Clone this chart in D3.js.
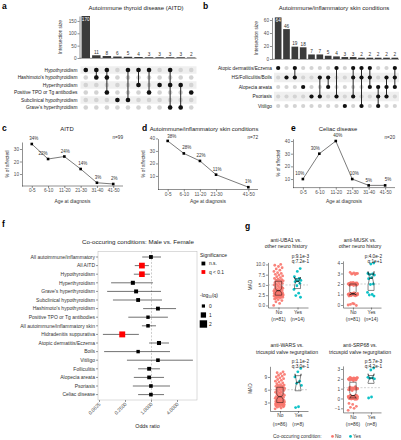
<!DOCTYPE html>
<html><head><meta charset="utf-8">
<script src="https://cdn.jsdelivr.net/npm/d3@7"></script>
<style>body{margin:0;background:#fff}</style>
</head><body><svg id="c" width="401" height="440"></svg>
<script>
// ---------------- DATA ----------------
const aitdSets = ["Hypothyroidism","Hashimoto's hypothyroidism","Hyperthyroidism","Positive TPO or Tg antibodies","Subclinical hypothyroidism","Grave's hyperthyroidism"];
const aitdCounts = [170,11,8,6,5,4,3,3,3,3,2];
const aitdMembers = [[0],[0,1],[0,1,3],[4],[0,4],[0,2],[0,3],[2],[0,2,5],[2,5],[3]];

const skinSets = ["Atopic dermatitis/Eczema","HS/Folliculitis/Boils","Alopecia areata","Psoriasis","Vitiligo"];
const skinCounts = [64,46,19,18,7,7,5,4,3,3,2,2,2,2,2];
const skinMembers = [[0],[1],[0,1],[2],[3],[1,3],[1,2],[0,3],[4],[0,1,3],[0,1,4],[0,1,2],[2,3,4],[1,2,3],[0,1,2]];

const ageGroups = ["0-5","6-10","11-20","21-30","31-40","41-50"];
const aitdAgeGroups = ["0-5","6-10","11-20","21-30","31-40","41-50"];
const aitdAgePct = [34,22,24,14,3,2];
const skinAgeGroups = ["0-5","6-10","11-20","21-30","41-50"];
const skinAgePct = [38,28,22,11,1];
const celiacAgeGroups = ["0-5","6-10","11-20","21-30","31-40","41-50"];
const celiacAgePct = [10,30,40,10,5,5];

const orLabels = ["All autoimmune/inflammatory","All AITD","Hypothyroidism","Hyperthyroidism","Grave's hyperthyroidism","Subclinical hypothyroidism","Hashimoto's hypothyroidism","Positive TPO or Tg antibodies","All autoimmune/inflammatory skin","Hidradenitis suppurativa","Atopic dermatitis/Eczema","Boils","Vitiligo","Folliculitis","Alopecia areata","Psoriasis","Celiac disease"];
const orValue = [0.97,0.60,0.60,0.37,0.44,0.49,1.41,0.83,0.83,0.21,1.49,0.49,1.41,0.88,0.88,0.97,0.97];
const orLow   = [0.61,0.41,0.39,0.116,0.094,0.128,0.64,0.29,0.60,0.075,0.88,0.08,0.27,0.49,0.39,0.37,0.49];
const orHigh  = [1.66,0.87,0.92,1.08,1.66,1.75,3.7,2.4,1.27,0.51,2.54,2.68,9.1,1.57,1.95,2.68,1.95];
const orNegLogQ = [0.3,1.2,1.15,0.4,0.35,0.3,0.3,0.1,0.15,1.3,0.4,0.1,0.2,0.3,0.25,0.2,0.2];
const orSignif = [false,true,true,false,false,false,false,false,false,true,false,false,false,false,false,false,false];
const orTicks = [0.0625,0.25,1,4];
const orTickLabels = ["0.0625","0.2500","1.0000","4.0000"];

const uba1No = [0.0,0.5,0.9,1.2,1.4,1.6,1.8,1.9,2.0,2.1,2.2,2.2,2.3,2.3,2.4,2.4,2.5,2.5,2.6,2.6,2.7,2.7,2.8,2.8,2.9,2.9,3.0,3.0,3.1,3.1,3.2,3.3,3.3,3.4,3.5,3.5,3.6,3.7,3.8,3.9,4.0,4.1,4.2,4.4,4.5,4.6,4.8,5.0,5.1,5.2,5.4,5.5,5.6,5.8,5.9,6.0,6.1,6.2,6.3,6.4,6.6,6.8,7.0,7.2,7.4,7.6,7.8,8.0,8.3,8.6,8.9,9.2,9.5,9.8,10.0,3.2,2.4,2.0,1.7,4.3,3.6];
const uba1Yes = [9.0,8.3,7.0,6.6,6.3,6.1,6.0,5.8,5.4,4.8,3.9,3.0,2.4,2.0];
const muskNo = [0.0,0.1,0.05,-0.05,0.15,
 0.85,0.9,0.9,0.95,0.95,0.95,1.0,1.0,1.0,1.0,1.0,1.0,1.05,1.05,1.05,1.1,1.1,1.15,0.9,0.95,1.0,1.0,1.05,0.92,0.98,1.02,1.08,0.88,0.97,1.03,1.12,0.93,1.0,1.06,0.96,1.01,1.04,0.99,
 1.85,1.9,1.95,2.0,2.0,2.0,2.05,2.1,2.15,1.9,1.95,2.0,2.0,2.05,2.1,1.88,1.97,2.02,2.08,2.12,1.92,1.98,2.03,2.07,1.94,2.0,2.04,1.96,2.01,2.06,1.99,
 2.9,2.95,3.0,3.05,3.1,3.0,2.97];
const muskYes = [4.0,3.9,3.0,2.95,2.9,2.85,2.6,2.5,2.0,1.95,1.2,1.0,0.95,0.85];
const warsNo = [1.5,1.7,1.9,2.0,2.1,2.2,2.3,2.4,2.5,2.5,2.6,2.6,2.7,2.7,2.8,2.8,2.9,2.9,3.0,3.0,3.0,3.1,3.1,3.2,3.2,3.3,3.3,3.4,3.5,3.5,3.6,3.7,3.8,3.9,4.0,4.0,4.1,4.2,4.3,4.4,4.5,4.6,4.7,4.8,5.0,5.1,5.2,5.4,5.5,5.6,5.8,5.9,6.0,6.1,6.2,6.3,6.4,6.5,6.6,6.7,6.8,6.9,7.0,7.1,7.2,7.4,7.6,7.8,8.0,8.2,8.4,8.6,8.8,9.0,9.2,9.4,9.6,9.8,10.0,10.2,3.4,2.4,3.8,4.6,2.2,5.3];
const warsYes = [11.0,10.2,9.0,8.0,7.5,7.0,2.0,1.8];
const srpNo = [-1.2,-1.0,-0.9,-0.8,-0.6,-0.5,
 -0.1,-0.05,0,0,0,0.05,0.1,0.15,0.2,0.25,-0.08,0.02,0.0,0.08,0.12,0.18,0.22,0.3,-0.02,0.04,0.06,0.1,0.14,0.0,0.03,0.07,0.11,0.16,0.2,0.24,0.28,0.32,0.05,0.09,0.13,0.01,0.17,0.21,0.26,0.35,
 0.8,0.9,0.95,1.0,1.0,1.05,1.1,1.2,0.85,0.98,1.02,1.15,0.93,1.07,0.88,1.12,0.97,1.03,
 1.8,1.85,1.9,1.9,1.95,1.95,2.0,2.0,2.0,2.0,2.05,2.05,2.1,2.1,2.15,1.88,1.93,1.98,2.02,2.07,2.12,1.97];
const srpYes = [3.1,2.9,2.15,2.1,2.05,2.0,0.15,0.05];
const gPanels = [
 {t1:"anti-UBA1 vs.", t2:"other neuro history", p:"p:9.1e-3", q:"q:7.2e-1", no:uba1No, yes:uba1Yes, nNo:"(n=81)", nYes:"(n=14)", ref:5, ticks:[0,2.5,5,7.5,10], fmt:".1f"},
 {t1:"anti-MUSK vs.", t2:"other neuro history", p:"p:4.0e-2", q:"q:1e+1", no:muskNo, yes:muskYes, nNo:"(n=81)", nYes:"(n=14)", ref:2, ticks:[0,1,2,3,4], fmt:"d"},
 {t1:"anti-WARS vs.", t2:"tricuspid valve regurgitation", p:"p:1.1e-2", q:"q:3.0e-1", no:warsNo, yes:warsYes, nNo:"(n=86)", nYes:"(n=8)", ref:6, ticks:[3,6,9], fmt:"d"},
 {t1:"anti-SRP68 vs.", t2:"tricuspid valve regurgitation", p:"p:5.7e-3", q:"q:4.2e-1", no:srpNo, yes:srpYes, nNo:"(n=86)", nYes:"(n=8)", ref:1.1, ticks:[-1,0,1,2,3], fmt:"d"}
];

// ---------------- SETUP ----------------
const FONT = '"Liberation Sans", Arial, Helvetica, sans-serif';
const svg = d3.select("#c");
svg.append("rect").attr("width",401).attr("height",440).attr("fill","#fff");
function T(x,y,s,size,o={}) {
  const t = svg.append("text").attr("x",x).attr("y",y).text(s)
    .attr("font-family",FONT).attr("font-size",size).attr("fill",o.fill||"#000")
    .attr("text-anchor",o.anchor||"start");
  if (o.bold) t.attr("font-weight","bold");
  if (o.rotate!==undefined) t.attr("transform",`rotate(${o.rotate},${x},${y})`);
  return t;
}
function styleAxis(g, fs) {
  g.attr("font-family",FONT).attr("font-size",fs);
  g.selectAll("text").attr("fill","#4d4d4d");
  g.selectAll("line,path").attr("stroke","#222").attr("stroke-width",0.5);
}
[["a",2,9],["b",203,9],["c",2,131],["d",142,131],["e",291,131],["f",2,227],["g",245,229]]
  .forEach(([l,x,y])=>T(x,y,l,8.5,{bold:true}));

// ---------------- UPSET ----------------
function drawUpset(c) {
  const n = c.counts.length;
  const x = d3.scaleBand().domain(d3.range(n)).range(c.colRange).paddingInner(0.2).paddingOuter(0.1);
  const y = d3.scaleLinear().domain([0, d3.max(c.counts)]).range([c.yBase, c.yTop]);
  const g = svg.append("g");
  g.selectAll("rect.bar").data(c.counts).join("rect")
    .attr("x",(d,i)=>x(i)).attr("y",d=>y(d)).attr("width",x.bandwidth()).attr("height",d=>c.yBase-y(d))
    .attr("fill","#3b3b3b");
  c.counts.forEach((d,i)=>{
    const inside = d===d3.max(c.counts);
    T(x(i)+x.bandwidth()/2, inside? y(d)+5 : y(d)-1.3, String(d), 4.7, {anchor:"middle", fill: inside?"#fff":"#333"});
  });
  const ay = g.append("g").attr("transform",`translate(${c.axisX},0)`)
    .call(d3.axisLeft(y).tickValues(c.ticks).tickSize(2).tickPadding(1).tickSizeOuter(0));
  styleAxis(ay,4.7);
  g.append("line").attr("x1",c.axisX).attr("x2",c.colRange[1]).attr("y1",c.yBase+0.3).attr("y2",c.yBase+0.3).attr("stroke","#222").attr("stroke-width",0.5);
  T(c.ylabX,(c.yBase+c.yTop)/2,"Intersection size",4.7,{anchor:"middle",rotate:-90,fill:"#333"});
  T(c.titleX,c.titleY,c.title,6,{anchor:"middle",fill:"#222"});
  const r = d3.scaleBand().domain(d3.range(c.sets.length)).range(c.rowRange);
  const rc = i => r(i)+r.bandwidth()/2;
  c.bandRows.forEach(i=>{
    g.append("rect").attr("x",c.colRange[0]).attr("y",r(i)).attr("width",c.colRange[1]-c.colRange[0]).attr("height",r.bandwidth()).attr("fill","#efefef");
  });
  c.sets.forEach((s,i)=>T(c.labelX, rc(i)+1.7, s, 4.8, {anchor:"end", fill:"#222"}));
  for (let j=0;j<n;j++) {
    const cx = x(j)+x.bandwidth()/2;
    c.sets.forEach((s,i)=>{
      g.append("circle").attr("cx",cx).attr("cy",rc(i)).attr("r",c.dotR).attr("fill","#d3d3d3");
    });
    const m = c.members[j];
    if (m.length>1) g.append("line").attr("x1",cx).attr("x2",cx).attr("y1",rc(d3.min(m))).attr("y2",rc(d3.max(m))).attr("stroke","#111").attr("stroke-width",0.9);
    m.forEach(i=>g.append("circle").attr("cx",cx).attr("cy",rc(i)).attr("r",c.dotR).attr("fill","#111"));
  }
}
drawUpset({sets:aitdSets,counts:aitdCounts,members:aitdMembers,colRange:[80.5,196.5],axisX:79.5,yBase:58,yTop:16,ticks:[0,50,100,150],
  rowRange:[66.25,111.25],labelX:77.5,bandRows:[0,2,4],dotR:2.3,title:"Autoimmune thyroid disease (AITD)",titleX:136,titleY:10,ylabX:62});
drawUpset({sets:skinSets,counts:skinCounts,members:skinMembers,colRange:[274,399],axisX:272,yBase:59,yTop:17.4,ticks:[0,20,40,60],
  rowRange:[63.25,110.75],labelX:272,bandRows:[1,3],dotR:2.1,title:"Autoimmune/inflammatory skin conditions",titleX:334,titleY:10,ylabX:258});

// ---------------- AGE LINE CHARTS ----------------
function drawLine(c) {
  const x = d3.scalePoint().domain(ageGroups).range(c.xRange).padding(0.6);
  const ext = d3.extent(c.vals), pad = (ext[1]-ext[0])*0.05;
  const y = d3.scaleLinear().domain([ext[0]-pad, ext[1]+pad]).range(c.yRange);
  const g = svg.append("g");
  const ax = g.append("g").attr("transform",`translate(0,${c.yRange[0]})`)
    .call(d3.axisBottom(x).tickValues(c.cats).tickSize(2).tickPadding(1).tickSizeOuter(0));
  ax.select("path.domain").attr("d",`M${c.xRange[0]},0H${c.xRange[1]}`);
  styleAxis(ax,4.7);
  const ay = g.append("g").attr("transform",`translate(${c.xRange[0]},0)`)
    .call(d3.axisLeft(y).tickValues(c.ticks).tickSize(2).tickPadding(1).tickSizeOuter(0));
  styleAxis(ay,4.7);
  const pts = c.cats.map((k,i)=>[x(k), y(c.vals[i])]);
  g.append("path").attr("d",d3.line()(pts)).attr("fill","none").attr("stroke","#222").attr("stroke-width",0.6);
  pts.forEach(([px,py],i)=>{
    g.append("rect").attr("x",px-1.3).attr("y",py-1.3).attr("width",2.6).attr("height",2.6).attr("fill","#000");
    T(px+c.nudge[i][0], py+c.nudge[i][1], c.vals[i]+"%", 4.5, {anchor:"middle", fill:"#333"});
  });
  T(c.xRange[0]-13, (c.yRange[0]+c.yRange[1])/2, "% of affected", 4.7, {anchor:"middle", rotate:-90, fill:"#333"});
  T((c.xRange[0]+c.xRange[1])/2, 203, "Age at diagnosis", 4.9, {anchor:"middle", fill:"#333"});
  T(c.titleX, 131, c.title, 5.9, {anchor:"middle", fill:"#222"});
  T(c.xRange[1], 139, c.n, 4.7, {anchor:"end", fill:"#333"});
}
drawLine({cats:aitdAgeGroups, vals:aitdAgePct, xRange:[22,123], yRange:[186,142], ticks:[10,20,30], title:"AITD", titleX:67, n:"n=99",
  nudge:[[2,-4],[-5,-4],[1,-4],[2,-4],[1,-4],[1,-4]]});
drawLine({cats:skinAgeGroups, vals:skinAgePct, xRange:[158,258], yRange:[189.5,138.6], ticks:[10,20,30,40], title:"Autoimmune/inflammatory skin conditions", titleX:204, n:"n=72",
  nudge:[[4,-3],[3,-4],[1,-4],[1,-4],[0,-4]]});
drawLine({cats:celiacAgeGroups, vals:celiacAgePct, xRange:[293,395], yRange:[187.6,138.8], ticks:[10,20,30,40], title:"Celiac disease", titleX:338, n:"n=20",
  nudge:[[-3,-4],[-4,-4],[2,-4],[2,-4],[0,-3],[3,-4]]});

// ---------------- FOREST PLOT ----------------
(function(){
  const left=98, right=197, top=251.4, bottom=400;
  const y = d3.scalePoint().domain(orLabels).range([257, 394.6]);
  const x = d3.scaleLog().base(2).domain([0.0625,4]).range([99.5,177.5]);
  const side = d3.scaleLinear().domain([0,2]).range([3.2,7.4]);
  const g = svg.append("g");
  g.append("rect").attr("x",left).attr("y",top).attr("width",right-left).attr("height",bottom-top).attr("fill","none").attr("stroke","#b8b8b8").attr("stroke-width",0.5);
  g.append("line").attr("x1",x(1)).attr("x2",x(1)).attr("y1",top).attr("y2",bottom).attr("stroke","#9a9a9a").attr("stroke-width",0.5).attr("stroke-dasharray","2,1.5");
  orLabels.forEach((l,i)=>{
    const yy = y(l);
    g.append("line").attr("x1",x(orLow[i])).attr("x2",x(orHigh[i])).attr("y1",yy).attr("y2",yy).attr("stroke","#111").attr("stroke-width",0.6);
    const s = side(orNegLogQ[i]);
    g.append("rect").attr("x",x(orValue[i])-s/2).attr("y",yy-s/2).attr("width",s).attr("height",s).attr("fill",orSignif[i]?"#ff0000":"#000");
    g.append("line").attr("x1",left-2).attr("x2",left).attr("y1",yy).attr("y2",yy).attr("stroke","#333").attr("stroke-width",0.5);
    T(left-3, yy+1.8, l, 5.0, {anchor:"end", fill:"#333"});
  });
  orTicks.forEach((t,i)=>{
    g.append("line").attr("x1",x(t)).attr("x2",x(t)).attr("y1",bottom).attr("y2",bottom+2).attr("stroke","#333").attr("stroke-width",0.5);
    T(x(t)+1.5, bottom+4.5, orTickLabels[i], 4.9, {anchor:"end", rotate:-45, fill:"#4d4d4d"});
  });
  T((left+right)/2, 428, "Odds ratio", 5.3, {anchor:"middle", fill:"#222"});
  T(138, 244, "Co-occuring conditions: Male vs. Female", 6.2, {anchor:"middle", fill:"#222"});
  T(200, 257, "Significance", 5, {fill:"#222"});
  [["n.s.","#000",263.5],["q < 0.1","#ff0000",272]].forEach(([l,c,yy])=>{
    g.append("rect").attr("x",201.5).attr("y",yy-1.9).attr("width",3.8).attr("height",3.8).attr("fill",c);
    T(209, yy+1.7, l, 4.9, {fill:"#222"});
  });
  const lt = T(200, 297, "-log", 5, {fill:"#222"});
  lt.append("tspan").attr("font-size",3.2).attr("dy",1.2).text("10");
  lt.append("tspan").attr("dy",-1.2).text("(q)");
  [[0,306],[1,315],[2,324]].forEach(([v,yy])=>{
    const s = side(v);
    g.append("rect").attr("x",203.4-s/2).attr("y",yy-s/2).attr("width",s).attr("height",s).attr("fill","#000");
    T(209, yy+1.7, String(v), 4.9, {fill:"#222"});
  });
})();

// ---------------- BOX / JITTER PANELS ----------------
const gLayout = [
  {axisX:268, right:308, yDomain:[-0.5,10.5], yRange:[307.5,262.4], t1y:241.5, pY:257.5, catY:314.5, mad:true},
  {axisX:343, right:381, yDomain:[-0.25,4.2], yRange:[307.6,260.9], t1y:241.5, pY:257.5, catY:314.5, mad:false},
  {axisX:270, right:308, yDomain:[1.0,11.5], yRange:[411,366.3], t1y:347, pY:362.5, catY:419, mad:true},
  {axisX:343, right:381, yDomain:[-1.415,3.315], yRange:[412.4,365.9], t1y:347, pY:362.5, catY:419, mad:false}
];
function notchBox(g, vals, cx, y, hw) {
  const s = vals.slice().sort(d3.ascending);
  const q1 = d3.quantile(s,0.25), med = d3.quantile(s,0.5), q3 = d3.quantile(s,0.75);
  const nd = 1.58*(q3-q1)/Math.sqrt(s.length);
  const nw = hw*0.5;
  const pts = [[cx-hw,q1],[cx-hw,med-nd],[cx-nw,med],[cx-hw,med+nd],[cx-hw,q3],[cx+hw,q3],[cx+hw,med+nd],[cx+nw,med],[cx+hw,med-nd],[cx+hw,q1]].map(([a,b])=>[a,y(b)]);
  g.append("path").attr("d",d3.line()(pts)+"Z").attr("fill","none").attr("stroke","#111").attr("stroke-width",0.5);
  g.append("line").attr("x1",cx-nw).attr("x2",cx+nw).attr("y1",y(med)).attr("y2",y(med)).attr("stroke","#111").attr("stroke-width",0.9);
}
gPanels.forEach((p,k)=>{
  const L = gLayout[k];
  const g = svg.append("g");
  const x = d3.scalePoint().domain(["No","Yes"]).range([L.axisX,L.right]).padding(0.55);
  const y = d3.scaleLinear().domain(L.yDomain).range(L.yRange);
  const ay = g.append("g").attr("transform",`translate(${L.axisX},0)`)
    .call(d3.axisLeft(y).tickValues(p.ticks).tickFormat(d3.format(p.fmt)).tickSize(2).tickPadding(1).tickSizeOuter(0));
  styleAxis(ay,4.7);
  const ax = g.append("g").attr("transform",`translate(0,${L.yRange[0]})`)
    .call(d3.axisBottom(x).tickSize(2).tickPadding(1).tickSizeOuter(0));
  styleAxis(ax,4.9);
  ax.selectAll("text").attr("fill","#333");
  g.append("line").attr("x1",L.axisX).attr("x2",L.right).attr("y1",y(p.ref)).attr("y2",y(p.ref)).attr("stroke","#a0a0a0").attr("stroke-width",0.5).attr("stroke-dasharray","2,1.5");
  const jit = (i,w)=>(((i*0.6180339887)%1)-0.5)*2*w;
  p.no.forEach((v,i)=>g.append("circle").attr("cx",x("No")+jit(i,4.8)).attr("cy",y(v)).attr("r",1.4).attr("fill","#F8766D").attr("fill-opacity",0.9));
  p.yes.forEach((v,i)=>g.append("circle").attr("cx",x("Yes")+jit(i+3,3.8)).attr("cy",y(v)).attr("r",1.4).attr("fill","#00BFC4").attr("fill-opacity",0.95));
  notchBox(g, p.no, x("No"), y, 3.2);
  notchBox(g, p.yes, x("Yes"), y, 3.0);
  T(x("No"), L.catY+6.5, p.nNo, 4.9, {anchor:"middle", fill:"#333"});
  T(x("Yes"), L.catY+6.5, p.nYes, 4.9, {anchor:"middle", fill:"#333"});
  const cxT = (L.axisX+L.right)/2 - 2;
  T(cxT, L.t1y, p.t1, 5.1, {anchor:"middle", fill:"#222"});
  T(cxT, L.t1y+6.5, p.t2, 5.1, {anchor:"middle", fill:"#222"});
  T(L.right+1, L.pY, p.p, 4.7, {anchor:"end", fill:"#222"});
  T(L.right+1, L.pY+5.5, p.q, 4.7, {anchor:"end", fill:"#222"});
  if (L.mad) T(252, (L.yRange[0]+L.yRange[1])/2, "MAD", 4.7, {anchor:"middle", rotate:-90, fill:"#333"});
});
T(273, 438, "Co-occuring condition:", 4.9, {fill:"#333"});
svg.append("circle").attr("cx",332.5).attr("cy",436.4).attr("r",1.4).attr("fill","#F8766D");
T(335, 438, "No", 4.9, {fill:"#333"});
svg.append("circle").attr("cx",350.5).attr("cy",436.4).attr("r",1.4).attr("fill","#00BFC4");
T(353, 438, "Yes", 4.9, {fill:"#333"});
</script></body></html>
